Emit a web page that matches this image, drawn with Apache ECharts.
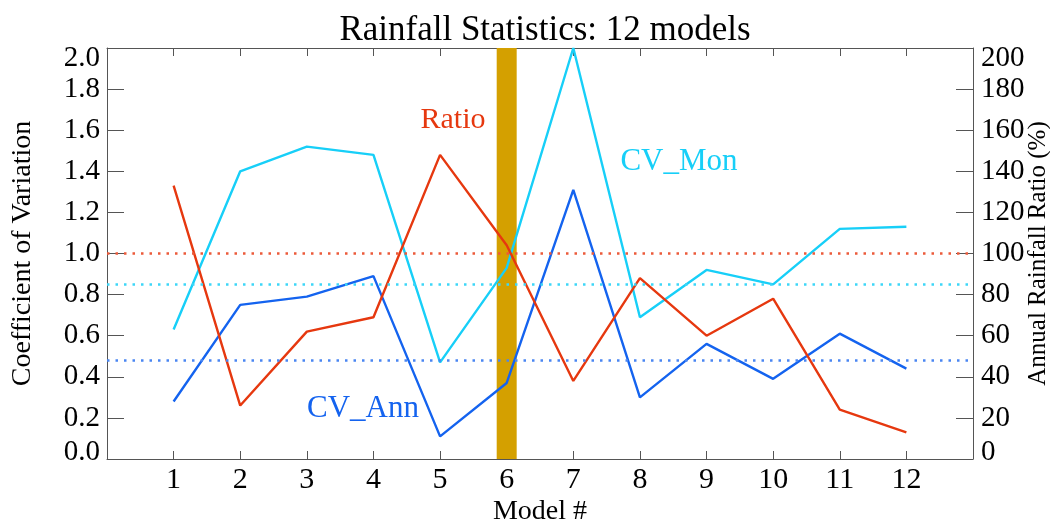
<!DOCTYPE html>
<html>
<head>
<meta charset="utf-8">
<title>Rainfall Statistics: 12 models</title>
<script src="https://cdn.jsdelivr.net/npm/echarts@6/dist/echarts.min.js"></script>
<style>
  html, body { margin: 0; padding: 0; background: #ffffff; overflow: hidden; }
  #chart { width: 1050px; height: 521px; }
</style>
</head>
<body>
<div id="chart"></div>
<script>
// Model numbers on the x axis
const models = [1, 2, 3, 4, 5, 6, 7, 8, 9, 10, 11, 12];
// Coefficient of variation of monthly rainfall (left axis)
const cvMon = [0.63, 1.40, 1.52, 1.48, 0.47, 0.93, 2.00, 0.69, 0.92, 0.85, 1.12, 1.13];
// Coefficient of variation of annual rainfall (left axis)
const cvAnn = [0.28, 0.75, 0.79, 0.89, 0.11, 0.37, 1.31, 0.30, 0.56, 0.39, 0.61, 0.44];
// Annual rainfall ratio in percent (right axis)
const ratio = [133, 26, 62, 69, 148, 104, 38, 88, 60, 78, 24, 13];
// Reference levels drawn as dotted lines
const cvMonRef = 0.85;
const cvAnnRef = 0.48;
const ratioRef = 100;
// Highlighted model and half-width of its band (in model units)
const highlightModel = 6;
const highlightHalf = 0.15;

const FONT = 'Liberation Serif';
const COL_MON = '#17cff8';
const COL_ANN = '#1463ef';
const COL_RATIO = '#e6380f';
const COL_AXIS = '#555555';

const pairs = (vals) => models.map((m, i) => [m, vals[i]]);

const chart = echarts.init(document.getElementById('chart'));

function edgeLabel(text, isMax, isMin) {
  if (isMax) return '{hi|' + text + '}';
  if (isMin) return '{lo|' + text + '}';
  return '{n|' + text + '}';
}
const tickRich = {
  n:  { fontFamily: FONT, fontSize: 29, color: '#000' },
  hi: { fontFamily: FONT, fontSize: 29, color: '#000', padding: [20, 0, 0, 0] },
  lo: { fontFamily: FONT, fontSize: 29, color: '#000', padding: [0, 0, 14, 0] }
};

const option = {
  animation: false,
  backgroundColor: '#ffffff',
  title: {
    text: 'Rainfall Statistics: 12 models',
    left: 540,
    top: 8,
    textAlign: 'center',
    textStyle: { fontFamily: FONT, fontSize: 35, fontWeight: 'normal', color: '#000' }
  },
  grid: { left: 107, right: 77, top: 48, bottom: 62, containLabel: false, outerBoundsMode: 'none' },
  xAxis: [
    {
      type: 'value', min: 0, max: 13, interval: 1, position: 'bottom',
      name: 'Model #', nameLocation: 'middle', nameGap: 39, nameMoveOverlap: false,
      nameTextStyle: { fontFamily: FONT, fontSize: 28, color: '#000' },
      axisLine: { show: true, onZero: false, lineStyle: { color: COL_AXIS, width: 1 } },
      axisTick: { show: true, inside: true, length: 8, lineStyle: { color: COL_AXIS } },
      axisLabel: {
        margin: 6, fontFamily: FONT, fontSize: 30, color: '#000',
        formatter: (v) => (v >= 1 && v <= 12 ? String(v) : '')
      },
      splitLine: { show: false }
    },
    {
      type: 'value', min: 0, max: 13, interval: 1, position: 'top',
      axisLine: { show: true, onZero: false, lineStyle: { color: COL_AXIS, width: 1 } },
      axisTick: { show: true, inside: true, length: 8, lineStyle: { color: COL_AXIS } },
      axisLabel: { show: false },
      splitLine: { show: false }
    }
  ],
  yAxis: [
    {
      type: 'value', min: 0, max: 2, interval: 0.2, position: 'left',
      name: 'Coefficient of Variation', nameLocation: 'middle', nameGap: 70, nameMoveOverlap: false,
      nameTextStyle: { fontFamily: FONT, fontSize: 28, color: '#000' },
      axisLine: { show: true, onZero: false, lineStyle: { color: COL_AXIS, width: 1 } },
      axisTick: { show: true, inside: true, length: 17, lineStyle: { color: COL_AXIS } },
      axisLabel: {
        margin: 7,
        formatter: (v) => edgeLabel(v.toFixed(1), Math.abs(v - 2) < 1e-6, Math.abs(v) < 1e-6),
        rich: tickRich
      },
      splitLine: { show: false }
    },
    {
      type: 'value', min: 0, max: 200, interval: 20, position: 'right',
      name: 'Annual Rainfall Ratio (%)', nameLocation: 'middle', nameGap: 53, nameMoveOverlap: false,
      nameTextStyle: { fontFamily: FONT, fontSize: 25, color: '#000' },
      axisLine: { show: true, onZero: false, lineStyle: { color: COL_AXIS, width: 1 } },
      axisTick: { show: true, inside: true, length: 17, lineStyle: { color: COL_AXIS } },
      axisLabel: {
        margin: 8,
        formatter: (v) => edgeLabel(String(Math.round(v)), Math.abs(v - 200) < 1e-6, Math.abs(v) < 1e-6),
        rich: tickRich
      },
      splitLine: { show: false }
    }
  ],
  series: [
    {
      // highlight band and CV reference levels
      name: 'cvRefs', type: 'line', xAxisIndex: 0, yAxisIndex: 0, data: [], z: 1,
      silent: true,
      markArea: {
        silent: true,
        itemStyle: { color: '#d4a000', opacity: 1 },
        data: [[{ xAxis: highlightModel - highlightHalf }, { xAxis: highlightModel + highlightHalf }]]
      },
      markLine: {
        silent: true, symbol: 'none', label: { show: false },
        data: [
          { yAxis: cvMonRef, lineStyle: { color: '#3dd6f8', type: [2.5, 6], width: 2.5 } },
          { yAxis: cvAnnRef, lineStyle: { color: '#4a86f2', type: [2.5, 6], width: 2.5 } }
        ]
      }
    },
    {
      // ratio reference level
      name: 'ratioRef', type: 'line', xAxisIndex: 0, yAxisIndex: 1, data: [], z: 1,
      silent: true,
      markLine: {
        silent: true, symbol: 'none', label: { show: false },
        data: [{ yAxis: ratioRef, lineStyle: { color: '#ec5a3a', type: [2.5, 6], width: 2.5 } }]
      }
    },
    {
      name: 'CV_Mon', type: 'line', xAxisIndex: 0, yAxisIndex: 0, z: 3,
      data: pairs(cvMon), showSymbol: false, symbol: 'none',
      lineStyle: { color: COL_MON, width: 2.4 }
    },
    {
      name: 'CV_Ann', type: 'line', xAxisIndex: 0, yAxisIndex: 0, z: 3,
      data: pairs(cvAnn), showSymbol: false, symbol: 'none',
      lineStyle: { color: COL_ANN, width: 2.4 }
    },
    {
      name: 'Ratio', type: 'line', xAxisIndex: 0, yAxisIndex: 1, z: 3,
      data: pairs(ratio), showSymbol: false, symbol: 'none',
      lineStyle: { color: COL_RATIO, width: 2.4 }
    }
  ],
  graphic: [
    { type: 'text', x: 453, y: 120, z: 10,
      style: { text: 'Ratio', fill: COL_RATIO, font: '30px "' + FONT + '"', textAlign: 'center', textVerticalAlign: 'middle' } },
    { type: 'text', x: 679, y: 162, z: 10,
      style: { text: 'CV_Mon', fill: COL_MON, font: '31px "' + FONT + '"', textAlign: 'center', textVerticalAlign: 'middle' } },
    { type: 'text', x: 363, y: 409, z: 10,
      style: { text: 'CV_Ann', fill: COL_ANN, font: '31px "' + FONT + '"', textAlign: 'center', textVerticalAlign: 'middle' } }
  ]
};

chart.setOption(option);
</script>
</body>
</html>
